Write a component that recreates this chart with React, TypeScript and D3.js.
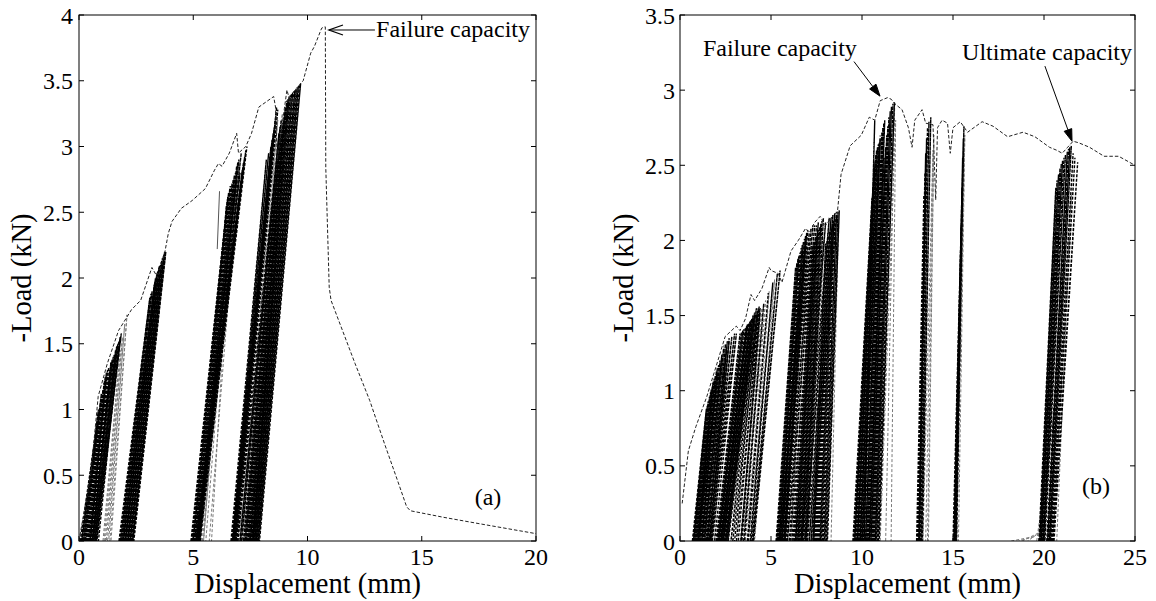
import React from "react";
import * as d3 from "d3";

// ---------- Panel (a) data ----------
const xTicksA = [0, 5, 10, 15, 20];
const yTicksA = [0, 0.5, 1, 1.5, 2, 2.5, 3, 3.5, 4];
const envAX = [0, 0.11, 0.52, 0.84, 1.24, 1.73, 2.30, 2.70, 3.19, 3.45, 3.75, 3.91, 4.07, 4.48, 4.96, 5.53, 5.93, 6.10, 6.26, 6.58, 6.90, 6.98, 7.30, 7.55, 7.87, 8.52, 8.60, 8.68, 9.10, 9.30, 9.65, 9.81, 10.14, 10.30, 10.62, 10.75, 10.78, 10.80, 10.95, 11.03, 12.08, 12.72, 13.37, 13.94, 14.34, 14.50, 15.96, 17.57, 20];
const envAY = [0, 0.11, 0.51, 1.10, 1.35, 1.60, 1.76, 1.83, 2.08, 2.00, 2.19, 2.34, 2.43, 2.53, 2.59, 2.68, 2.82, 2.87, 2.85, 2.95, 3.10, 2.95, 3.00, 3.10, 3.30, 3.38, 3.30, 2.90, 3.43, 3.30, 3.47, 3.50, 3.71, 3.76, 3.90, 3.91, 3.91, 2.84, 1.93, 1.83, 1.35, 1.07, 0.74, 0.46, 0.26, 0.23, 0.18, 0.13, 0.056];
// cycles: [start x, peak x, peak load, return x]
const cyclesA_black: number[][] = [
  [0.05, 0.8, 0.9, 0.12], [0.1, 0.9, 1.0, 0.2], [0.12, 0.85, 1.0, 0.2], [0.15, 0.95, 1.05, 0.25],
  [0.2, 1.0, 1.1, 0.3], [0.22, 0.98, 1.12, 0.28], [0.25, 1.05, 1.15, 0.35], [0.3, 1.1, 1.2, 0.4],
  [0.32, 1.12, 1.22, 0.38], [0.35, 1.15, 1.25, 0.45], [0.4, 1.2, 1.28, 0.5], [0.42, 1.25, 1.3, 0.48],
  [0.45, 1.3, 1.32, 0.55], [0.5, 1.4, 1.36, 0.6], [0.52, 1.45, 1.38, 0.58], [0.55, 1.5, 1.4, 0.65],
  [0.6, 1.6, 1.45, 0.7], [0.62, 1.65, 1.48, 0.68], [0.65, 1.7, 1.5, 0.75], [0.7, 1.8, 1.55, 0.78],
  [0.72, 1.85, 1.58, 0.78], [0.3, 1.35, 1.3, 0.6], [0.45, 1.55, 1.42, 0.75], [0.6, 1.75, 1.52, 0.85],
  [1.75, 3.1, 1.85, 1.82], [1.78, 3.15, 1.88, 1.84], [1.8, 3.2, 1.9, 1.87], [1.85, 3.3, 1.95, 1.92],
  [1.88, 3.32, 1.97, 1.94], [1.9, 3.35, 2.0, 1.97], [1.95, 3.4, 2.02, 2.02], [1.98, 3.42, 2.04, 2.04],
  [2.0, 3.45, 2.05, 2.07], [2.05, 3.5, 2.08, 2.12], [2.08, 3.52, 2.09, 2.14], [2.1, 3.55, 2.1, 2.17],
  [2.15, 3.6, 2.12, 2.22], [2.18, 3.62, 2.13, 2.24], [2.2, 3.65, 2.15, 2.27], [2.25, 3.7, 2.17, 2.32],
  [2.28, 3.72, 2.18, 2.34], [2.3, 3.75, 2.2, 2.36], [2.35, 3.8, 2.2, 2.4], [1.9, 3.6, 2.1, 2.2], [2.0, 3.78, 2.18, 2.38],
  [4.9, 6.5, 2.6, 4.97], [4.92, 6.52, 2.62, 5.0], [4.95, 6.55, 2.65, 5.02], [5.0, 6.6, 2.68, 5.07],
  [5.0, 6.62, 2.7, 5.08], [5.02, 6.65, 2.7, 5.1], [5.05, 6.7, 2.72, 5.12], [5.06, 7.15, 2.82, 5.13],
  [5.08, 6.75, 2.75, 5.15], [5.1, 6.8, 2.78, 5.17], [5.1, 7.2, 2.88, 5.16], [5.12, 6.85, 2.8, 5.19],
  [5.14, 7.25, 2.92, 5.2], [5.15, 6.9, 2.85, 5.2], [5.17, 7.3, 2.97, 5.24], [5.18, 6.95, 2.88, 5.22],
  [5.2, 7.0, 2.9, 5.24], [5.2, 7.35, 3.0, 5.28], [5.22, 7.1, 2.95, 5.25], [5.24, 6.45, 2.55, 5.3],
  [4.95, 6.9, 2.75, 5.15], [5.0, 7.05, 2.8, 5.25], [5.05, 7.2, 2.85, 5.3],
  [6.65, 8.2, 2.9, 6.72], [6.68, 8.3, 2.95, 6.74], [6.7, 8.4, 3.0, 6.77], [6.72, 8.45, 3.05, 6.8],
  [6.75, 8.5, 3.1, 6.82], [6.78, 8.55, 3.15, 6.85], [6.8, 8.6, 3.2, 6.87], [6.82, 8.62, 3.25, 6.88],
  [6.85, 8.65, 3.3, 6.9], [6.88, 8.7, 3.28, 6.95], [6.95, 8.75, 3.1, 7.05], [7.05, 8.8, 3.15, 7.12],
  [7.1, 8.85, 3.2, 7.2], [7.2, 8.8, 3.05, 7.27], [7.25, 8.85, 3.1, 7.32], [7.3, 8.9, 3.15, 7.37],
  [7.32, 8.92, 3.18, 7.4], [7.35, 8.95, 3.2, 7.42], [7.38, 8.98, 3.22, 7.45], [7.4, 9.0, 3.25, 7.47],
  [7.43, 9.02, 3.28, 7.5], [7.45, 9.05, 3.3, 7.52], [7.48, 9.08, 3.32, 7.55], [7.5, 9.1, 3.35, 7.57],
  [7.53, 9.15, 3.36, 7.6], [7.55, 9.2, 3.38, 7.62], [7.58, 9.25, 3.39, 7.65], [7.6, 9.3, 3.4, 7.67],
  [7.63, 9.35, 3.41, 7.7], [7.65, 9.4, 3.42, 7.72], [7.68, 9.45, 3.43, 7.75], [7.7, 9.5, 3.44, 7.77],
  [7.75, 9.55, 3.45, 7.8], [7.78, 9.6, 3.46, 7.84], [7.82, 9.65, 3.47, 7.87], [7.85, 9.7, 3.48, 7.9],
];
const cyclesA_gray: number[][] = [
  [1.05, 1.8, 1.45, 1.1], [1.15, 1.9, 1.55, 1.2], [1.25, 2.0, 1.65, 1.3], [1.35, 2.1, 1.72, 1.4],
  [5.3, 6.6, 2.6, 5.45], [5.35, 6.8, 2.75, 5.55], [5.4, 7.0, 2.85, 5.7], [5.45, 6.7, 2.7, 5.8],
  [6.9, 8.55, 3.1, 7.15], [7.05, 8.7, 3.2, 7.25], [7.0, 8.9, 3.25, 7.3],
];
const solidLineAX = [6.05, 6.15];
const solidLineAY = [2.22, 2.66];

// ---------- Panel (b) data ----------
const xTicksB = [0, 5, 10, 15, 20, 25];
const yTicksB = [0, 0.5, 1, 1.5, 2, 2.5, 3, 3.5];
const envBX = [0.12, 0.46, 0.87, 1.47, 2.08, 2.48, 3.09, 3.3, 3.6, 3.9, 4.1, 4.5, 4.9, 5.0, 5.4, 5.6, 6.1, 6.5, 6.9, 7.1, 7.4, 7.7, 8.0, 8.3, 8.65, 8.85, 9.35, 9.96, 10.4, 10.7, 11.0, 11.4, 11.6, 11.8, 12.2, 12.55, 12.75, 12.9, 13.3, 13.5, 13.9, 14.05, 14.15, 14.4, 14.7, 14.85, 15.0, 15.4, 15.8, 16.6, 17.2, 18.0, 18.85, 19.5, 20.3, 20.7, 21.0, 21.3, 21.6, 21.9, 22.5, 23.3, 24.1, 25];
const envBY = [0.25, 0.6, 0.76, 0.96, 1.2, 1.36, 1.43, 1.40, 1.48, 1.64, 1.60, 1.68, 1.82, 1.80, 1.78, 1.72, 1.93, 2.0, 2.08, 2.05, 2.12, 2.16, 2.1, 2.15, 2.19, 2.44, 2.63, 2.7, 2.82, 2.80, 2.93, 2.95, 2.94, 2.91, 2.87, 2.75, 2.62, 2.80, 2.87, 2.78, 2.77, 2.27, 2.75, 2.80, 2.78, 2.58, 2.75, 2.79, 2.72, 2.79, 2.76, 2.69, 2.72, 2.69, 2.62, 2.60, 2.58, 2.62, 2.66, 2.65, 2.62, 2.56, 2.56, 2.5];
const cyclesB_black: number[][] = [
  [0.68, 1.45, 0.88, 0.74], [0.72, 1.5, 0.9, 0.78], [0.76, 1.55, 0.93, 0.82], [0.8, 1.62, 0.96, 0.86],
  [0.84, 1.68, 0.99, 0.9], [0.88, 1.72, 1.01, 0.94], [0.92, 1.78, 1.03, 0.98], [0.96, 1.82, 1.06, 1.02],
  [1.0, 1.88, 1.08, 1.06], [1.05, 1.94, 1.1, 1.1], [1.1, 2.0, 1.13, 1.15], [1.15, 2.05, 1.15, 1.2],
  [1.2, 2.12, 1.17, 1.25], [1.26, 2.2, 1.2, 1.3], [1.32, 2.3, 1.24, 1.36], [1.4, 2.4, 1.28, 1.45],
  [1.5, 2.5, 1.31, 1.55], [1.6, 2.6, 1.33, 1.65], [1.7, 2.7, 1.35, 1.74],
  [0.75, 1.9, 1.05, 0.9], [0.9, 2.1, 1.12, 1.0], [1.1, 2.3, 1.2, 1.3], [1.3, 2.55, 1.28, 1.5],
  [1.45, 2.7, 1.33, 1.62], [1.55, 2.85, 1.36, 1.7], [1.65, 3.0, 1.38, 1.78], [1.75, 3.1, 1.38, 1.9],
  [1.98, 3.3, 1.38, 2.04], [2.02, 3.38, 1.39, 2.08], [2.06, 3.45, 1.4, 2.12], [2.1, 3.52, 1.41, 2.16],
  [2.14, 3.6, 1.42, 2.2], [2.18, 3.66, 1.43, 2.24], [2.22, 3.72, 1.44, 2.28], [2.26, 3.78, 1.45, 2.32],
  [2.3, 3.84, 1.46, 2.36], [2.35, 3.9, 1.47, 2.4], [2.4, 3.96, 1.48, 2.45], [2.45, 4.02, 1.5, 2.5],
  [2.5, 4.1, 1.52, 2.55], [2.56, 4.2, 1.55, 2.6],
  [2.05, 3.7, 1.44, 2.3], [2.2, 3.95, 1.48, 2.5], [2.35, 4.1, 1.5, 2.62], [2.5, 4.25, 1.53, 2.8],
  [2.65, 4.3, 1.55, 3.0], [2.9, 4.35, 1.56, 3.2], [3.1, 4.4, 1.55, 3.35],
  [3.35, 4.4, 1.52, 3.4], [3.5, 4.6, 1.58, 3.55], [3.7, 4.85, 1.65, 3.75], [3.85, 5.1, 1.72, 3.9],
  [3.95, 5.35, 1.78, 4.0], [4.0, 5.5, 1.8, 4.05],
  [5.28, 6.35, 1.82, 5.33], [5.32, 6.42, 1.85, 5.37], [5.36, 6.48, 1.88, 5.41], [5.4, 6.54, 1.9, 5.45],
  [5.44, 6.6, 1.92, 5.49], [5.48, 6.66, 1.95, 5.53], [5.52, 6.72, 1.97, 5.57], [5.56, 6.78, 1.99, 5.61],
  [5.6, 6.84, 2.01, 5.65], [5.66, 6.9, 2.03, 5.71], [5.72, 6.96, 2.05, 5.77], [5.8, 7.02, 2.07, 5.85],
  [5.3, 6.9, 2.0, 5.5], [5.45, 7.1, 2.05, 5.7], [5.6, 7.2, 2.08, 5.9], [5.75, 7.3, 2.1, 6.0],
  [5.9, 7.4, 2.1, 6.15], [6.05, 7.5, 2.1, 6.25], [6.2, 7.6, 2.12, 6.35],
  [6.3, 7.25, 1.95, 6.35], [6.36, 7.32, 1.97, 6.41], [6.42, 7.38, 1.99, 6.47], [6.48, 7.44, 2.01, 6.53],
  [6.54, 7.5, 2.03, 6.59], [6.6, 7.56, 2.05, 6.65], [6.66, 7.62, 2.07, 6.71], [6.72, 7.68, 2.09, 6.77],
  [6.8, 7.74, 2.11, 6.85], [6.88, 7.8, 2.13, 6.93], [6.96, 7.88, 2.15, 7.0],
  [6.5, 8.0, 2.12, 6.7], [6.7, 8.2, 2.15, 6.9], [6.9, 8.3, 2.15, 7.1], [7.0, 8.4, 2.17, 7.2],
  [7.1, 8.5, 2.18, 7.3], [7.2, 8.6, 2.19, 7.35],
  [7.3, 8.0, 1.98, 7.35], [7.37, 8.08, 2.0, 7.42], [7.44, 8.15, 2.03, 7.49], [7.51, 8.22, 2.06, 7.56],
  [7.58, 8.3, 2.09, 7.63], [7.65, 8.38, 2.11, 7.7], [7.72, 8.45, 2.13, 7.77], [7.8, 8.52, 2.15, 7.85],
  [7.88, 8.6, 2.17, 7.93], [7.96, 8.68, 2.19, 8.01], [8.05, 8.75, 2.2, 8.1],
  [9.5, 10.55, 2.28, 9.55], [9.55, 10.6, 2.35, 9.6], [9.6, 10.64, 2.42, 9.65], [9.65, 10.68, 2.48, 9.7],
  [9.7, 10.72, 2.53, 9.75], [9.75, 10.76, 2.57, 9.8], [9.8, 10.8, 2.6, 9.85], [9.85, 10.85, 2.62, 9.9],
  [9.9, 10.9, 2.64, 9.95], [9.95, 10.95, 2.65, 10.0], [10.02, 11.0, 2.67, 10.07], [10.08, 10.7, 2.8, 10.12],
  [10.05, 11.0, 2.68, 10.2], [10.12, 11.1, 2.72, 10.25], [10.18, 11.15, 2.75, 10.3], [10.24, 11.2, 2.78, 10.35],
  [10.28, 11.25, 2.8, 10.4],
  [10.32, 11.15, 2.48, 10.37], [10.38, 11.22, 2.55, 10.43], [10.44, 11.3, 2.62, 10.49], [10.5, 11.36, 2.7, 10.55],
  [10.56, 11.42, 2.76, 10.61], [10.62, 11.48, 2.82, 10.67], [10.68, 11.55, 2.86, 10.73], [10.74, 11.62, 2.89, 10.79],
  [10.82, 11.7, 2.91, 10.87], [10.9, 11.78, 2.92, 10.95],
  [13.0, 13.4, 2.3, 13.05], [13.04, 13.46, 2.45, 13.08], [13.08, 13.5, 2.58, 13.12], [13.12, 13.55, 2.68, 13.16],
  [13.17, 13.6, 2.75, 13.21], [13.22, 13.68, 2.79, 13.26], [13.28, 13.78, 2.82, 13.32],
  [15.0, 15.45, 2.1, 15.05], [15.04, 15.5, 2.35, 15.08], [15.08, 15.53, 2.55, 15.12], [15.12, 15.57, 2.68, 15.16],
  [15.16, 15.6, 2.76, 15.2],
  [19.72, 20.65, 2.35, 19.77], [19.76, 20.72, 2.4, 19.81], [19.8, 20.8, 2.44, 19.85], [19.84, 20.88, 2.48, 19.89],
  [19.88, 20.95, 2.51, 19.93], [19.92, 21.02, 2.53, 19.97], [19.96, 21.1, 2.55, 20.01], [20.0, 21.18, 2.57, 20.05],
  [20.15, 21.28, 2.59, 20.2], [20.2, 21.35, 2.61, 20.25], [20.25, 21.42, 2.62, 20.3], [20.3, 21.5, 2.63, 20.35],
  [20.36, 21.6, 2.58, 20.41], [20.42, 21.7, 2.55, 20.47], [20.5, 21.85, 2.52, 20.55],
];
const cyclesB_gray: number[][] = [
  [1.3, 2.2, 1.2, 1.6], [1.5, 2.4, 1.3, 1.9], [2.6, 3.8, 1.45, 2.9], [2.8, 4.0, 1.5, 3.1],
  [3.3, 4.5, 1.55, 3.5], [3.45, 4.7, 1.6, 3.7], [3.6, 4.9, 1.66, 3.9], [3.75, 5.2, 1.74, 4.1],
  [5.8, 6.8, 1.9, 6.1], [6.1, 7.0, 1.95, 6.3], [7.0, 7.9, 2.0, 7.25], [8.1, 8.7, 2.1, 8.3],
  [10.0, 11.0, 2.7, 10.3], [10.9, 11.8, 2.92, 11.3], [11.0, 11.85, 2.8, 11.6],
  [13.35, 13.9, 2.6, 13.5], [13.6, 13.95, 2.7, 13.65], [15.2, 15.65, 2.7, 15.3],
  [18.2, 19.5, 0.03, 18.6], [18.8, 19.8, 0.06, 19.1], [19.6, 20.6, 0.9, 19.7], [20.5, 21.5, 2.3, 20.7],
];

// ---------- layout ----------
const W = 1156, H = 601;
const panelA = { left: 79, right: 536, top: 15, bottom: 541 };
const panelB = { left: 680, right: 1135, top: 15, bottom: 541 };
const serif = "'Liberation Serif', 'Times New Roman', serif";

type Ann = { text: string; tx: number; ty: number; tipX?: number; tipY?: number; tailX?: number; tailY?: number; head?: "open" | "filled"; anchor?: string };

const annA: Ann[] = [
  { text: "Failure capacity", tx: 13.0, ty: 3.83, tipX: 10.94, tipY: 3.886, tailX: 12.95, tailY: 3.886, head: "open" },
  { text: "(a)", tx: 17.9, ty: 0.27, anchor: "middle" },
];
const annB: Ann[] = [
  { text: "Failure capacity", tx: 1.26, ty: 3.23, tipX: 10.99, tipY: 2.96, tailX: 9.56, tailY: 3.19, head: "filled" },
  { text: "Ultimate capacity", tx: 15.5, ty: 3.2, tipX: 21.54, tipY: 2.66, tailX: 20.05, tailY: 3.16, head: "filled" },
  { text: "(b)", tx: 22.86, ty: 0.31, anchor: "middle" },
];

function Panel(props: {
  box: { left: number; right: number; top: number; bottom: number };
  xMax: number; yMax: number; xTicks: number[]; yTicks: number[];
  envX: number[]; envY: number[]; black: number[][]; gray: number[][];
  solidX?: number[]; solidY?: number[]; anns: Ann[]; yLabelX: number; yLabelRight: number;
}) {
  const { box } = props;
  const x = d3.scaleLinear().domain([0, props.xMax]).range([box.left, box.right]);
  const y = d3.scaleLinear().domain([0, props.yMax]).range([box.bottom, box.top]);
  const line = d3.line<[number, number]>().x((d) => x(d[0])).y((d) => y(d[1]));
  const env = line(props.envX.map((v, i) => [v, props.envY[i]] as [number, number]));
  const cyc = (c: number[]) => line([[c[0], 0], [c[1], c[2]], [c[3], 0]]);
  const tk = 5;
  return (
    <g>
      <defs>
        <clipPath id={"clip" + box.left}>
          <rect x={box.left} y={box.top} width={box.right - box.left} height={box.bottom - box.top} />
        </clipPath>
      </defs>
      <g clipPath={`url(#clip${box.left})`}>
        {props.gray.map((c, i) => (
          <path key={"g" + i} d={cyc(c) || ""} fill="none" stroke="#7a7a7a" strokeWidth={1} strokeDasharray="3 2" />
        ))}
        {props.black.map((c, i) => (
          <path key={"b" + i} d={cyc(c) || ""} fill="none" stroke="#000" strokeWidth={1.4} strokeDasharray="3 1.5" />
        ))}
        {props.solidX && props.solidY && (
          <path d={line(props.solidX.map((v, i) => [v, props.solidY![i]] as [number, number])) || ""} fill="none" stroke="#555" strokeWidth={1} />
        )}
        <path d={env || ""} fill="none" stroke="#222" strokeWidth={1} strokeDasharray="3.5 2" />
      </g>
      <rect x={box.left} y={box.top} width={box.right - box.left} height={box.bottom - box.top} fill="none" stroke="#000" strokeWidth={1} />
      {props.xTicks.map((t) => (
        <g key={"xt" + t}>
          <line x1={x(t)} x2={x(t)} y1={box.bottom} y2={box.bottom - tk} stroke="#000" />
          <line x1={x(t)} x2={x(t)} y1={box.top} y2={box.top + tk} stroke="#000" />
          <text x={x(t)} y={565} textAnchor="middle" fontFamily={serif} fontSize={24} fill="#000">{String(t)}</text>
        </g>
      ))}
      {props.yTicks.map((t) => (
        <g key={"yt" + t}>
          <line x1={box.left} x2={box.left + tk} y1={y(t)} y2={y(t)} stroke="#000" />
          <line x1={box.right} x2={box.right - tk} y1={y(t)} y2={y(t)} stroke="#000" />
          <text x={props.yLabelRight} y={y(t)} dy="0.36em" textAnchor="end" fontFamily={serif} fontSize={24} fill="#000">{String(t)}</text>
        </g>
      ))}
      <text x={(box.left + box.right) / 2} y={593} textAnchor="middle" fontFamily={serif} fontSize={28.5} fill="#000">Displacement (mm)</text>
      <text transform={`translate(${props.yLabelX},${(box.top + box.bottom) / 2}) rotate(-90)`} textAnchor="middle" fontFamily={serif} fontSize={28.5} fill="#000">-Load (kN)</text>
      {props.anns.map((a, i) => {
        const els: React.ReactNode[] = [];
        els.push(
          <text key="t" x={x(a.tx)} y={y(a.ty)} textAnchor={a.anchor || "start"} fontFamily={serif} fontSize={24} fill="#000">{a.text}</text>
        );
        if (a.tipX !== undefined) {
          const x1 = x(a.tailX!), y1 = y(a.tailY!), x2 = x(a.tipX!), y2 = y(a.tipY!);
          const ang = Math.atan2(y2 - y1, x2 - x1);
          const L = a.head === "open" ? 14 : 12, Wd = a.head === "open" ? 5 : 4;
          const bx = x2 - L * Math.cos(ang), by = y2 - L * Math.sin(ang);
          const px = -Math.sin(ang) * Wd, py = Math.cos(ang) * Wd;
          els.push(<line key="l" x1={x1} y1={y1} x2={a.head === "open" ? x2 : bx} y2={a.head === "open" ? y2 : by} stroke="#000" strokeWidth={1} />);
          if (a.head === "open") {
            els.push(<polyline key="h" points={`${bx + px},${by + py} ${x2},${y2} ${bx - px},${by - py}`} fill="none" stroke="#000" strokeWidth={1.3} />);
          } else {
            els.push(<polygon key="h" points={`${bx + px},${by + py} ${x2},${y2} ${bx - px},${by - py}`} fill="#000" stroke="#000" />);
          }
        }
        return <g key={"a" + i}>{els}</g>;
      })}
    </g>
  );
}

export default function App() {
  return (
    <svg width={W} height={H} style={{ position: "absolute", left: 0, top: 0, background: "#fff" }}>
      <rect x={0} y={0} width={W} height={H} fill="#fff" />
      <Panel box={panelA} xMax={20} yMax={4} xTicks={xTicksA} yTicks={yTicksA} envX={envAX} envY={envAY}
        black={cyclesA_black} gray={cyclesA_gray} solidX={solidLineAX} solidY={solidLineAY} anns={annA} yLabelX={31} yLabelRight={73} />
      <Panel box={panelB} xMax={25} yMax={3.5} xTicks={xTicksB} yTicks={yTicksB} envX={envBX} envY={envBY}
        black={cyclesB_black} gray={cyclesB_gray} anns={annB} yLabelX={633} yLabelRight={675} />
    </svg>
  );
}
